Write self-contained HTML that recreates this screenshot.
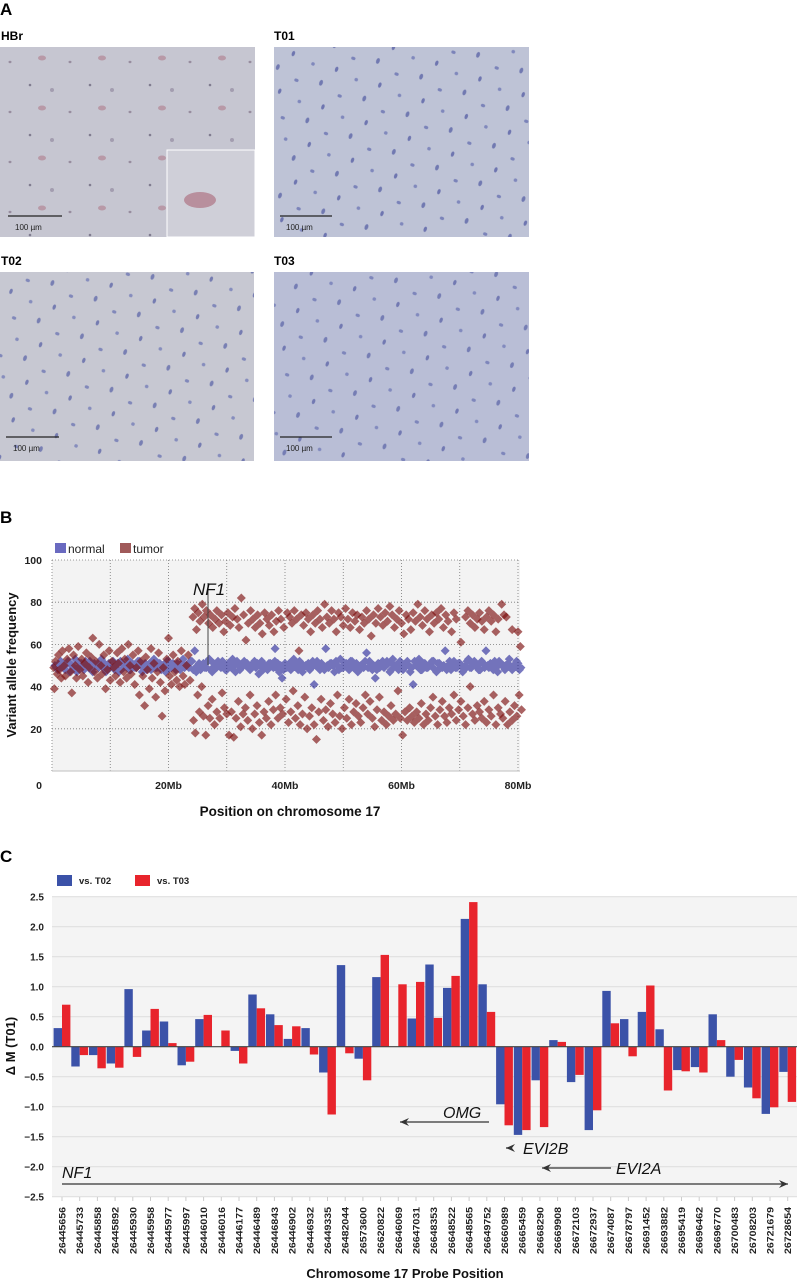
<!DOCTYPE html>
<html><head><meta charset="utf-8">
<style>
html,body{margin:0;padding:0;background:#fff;}
svg{display:block;font-family:"Liberation Sans",sans-serif;}
</style></head>
<body>
<svg id="fig" width="798" height="1280" viewBox="0 0 798 1280" xmlns="http://www.w3.org/2000/svg">
<defs>
<pattern id="cellsA" width="60" height="50" patternUnits="userSpaceOnUse">
<ellipse cx="10" cy="12" rx="1.5" ry="1.2" fill="#8c7f92"/><ellipse cx="42" cy="8" rx="4" ry="2.5" fill="#b48e9c"/><ellipse cx="30" cy="35" rx="1.3" ry="1.3" fill="#6e6a80"/><ellipse cx="52" cy="40" rx="2" ry="2" fill="#9a93a8"/>
</pattern>
<pattern id="cellsB" width="46" height="40" patternUnits="userSpaceOnUse" patternTransform="rotate(20)">
<ellipse cx="8" cy="8" rx="1.8" ry="3" fill="#5e67a8"/><ellipse cx="30" cy="14" rx="2.2" ry="1.6" fill="#6a73b2"/><ellipse cx="18" cy="30" rx="1.6" ry="2.8" fill="#5a62a6"/><ellipse cx="40" cy="33" rx="1.8" ry="1.8" fill="#7079b6"/>
</pattern>
</defs>

<!-- Panel A -->
<text x="0" y="15" font-size="17" font-weight="bold">A</text>
<g>
<text x="1" y="40" font-size="12" font-weight="bold">HBr</text>
<rect x="0" y="47" width="255" height="190" fill="#c6c6d1"/>
<rect x="0" y="47" width="255" height="190" fill="url(#cellsA)" opacity="0.8"/>
<rect x="167" y="150" width="88" height="87" fill="#cfcfd8" stroke="#fff" stroke-width="1"/>
<ellipse cx="200" cy="200" rx="16" ry="8" fill="#b88f9d"/>
<line x1="8" y1="216" x2="62" y2="216" stroke="#222" stroke-width="1.2"/>
<text x="15" y="230" font-size="8" fill="#222">100 µm</text>
</g>
<g>
<text x="274" y="40" font-size="12" font-weight="bold">T01</text>
<rect x="274" y="47" width="255" height="190" fill="#bec3d6"/>
<rect x="274" y="47" width="255" height="190" fill="url(#cellsB)" opacity="0.8"/>
<line x1="280" y1="216" x2="332" y2="216" stroke="#222" stroke-width="1.2"/>
<text x="286" y="230" font-size="8" fill="#222">100 µm</text>
</g>
<g>
<text x="1" y="265" font-size="12" font-weight="bold">T02</text>
<rect x="0" y="272" width="254" height="189" fill="#c7c8d2"/>
<rect x="0" y="272" width="254" height="189" fill="url(#cellsB)" opacity="0.75"/>
<line x1="6" y1="437" x2="59" y2="437" stroke="#222" stroke-width="1.2"/>
<text x="13" y="451" font-size="8" fill="#222">100 µm</text>
</g>
<g>
<text x="274" y="265" font-size="12" font-weight="bold">T03</text>
<rect x="274" y="272" width="255" height="189" fill="#b9bed6"/>
<rect x="274" y="272" width="255" height="189" fill="url(#cellsB)" opacity="0.75"/>
<line x1="280" y1="437" x2="332" y2="437" stroke="#222" stroke-width="1.2"/>
<text x="286" y="451" font-size="8" fill="#222">100 µm</text>
</g>

<!-- Panel B -->
<text x="0" y="523" font-size="17" font-weight="bold">B</text>
<g id="chartB"></g>

<!-- Panel C -->
<text x="0" y="862" font-size="17" font-weight="bold">C</text>
<g id="chartC"></g>
</svg>

<script>
// ---------- Panel B data ----------
const bTickVals = [0, 20, 40, 60, 80, 100];
const bXTickVals = [20, 40, 60, 80];
const bXTickLabels = ["20Mb", "40Mb", "60Mb", "80Mb"];
const tumorPos = [0.3,0.4,0.6,0.9,1.1,1.3,1.6,1.8,2.1,2.3,2.6,2.9,3.2,3.4,3.7,4,4.2,4.5,4.8,5.1,5.3,5.6,5.9,6.2,6.4,6.7,7,7.3,7.5,7.8,8.1,8.4,8.6,8.9,9.2,9.5,9.8,10,10.3,10.6,10.9,11.2,11.4,11.7,12,12.3,12.5,12.8,13.1,13.4,13.6,13.9,14.2,14.5,14.8,15,15.3,15.6,15.9,16.1,16.4,16.7,17,17.2,17.5,17.8,18.1,18.3,18.6,18.9,19.1,19.4,19.7,20,20.2,20.5,20.8,21.1,21.4,21.6,21.9,22.2,22.5,22.8,23.1,23.4,23.7,
24.2,24.5,24.8,25.1,25.4,25.8,26.1,26.5,26.9,27.2,27.6,28,28.3,28.7,29.1,29.5,29.8,30.2,30.6,31,31.4,31.8,32.1,32.5,32.9,33.3,33.7,34.1,34.5,34.9,35.3,35.7,36.1,36.5,36.9,37.3,37.7,38.1,38.5,38.9,39.3,39.8,40.4,40.8,41.2,41.6,42,42.4,42.8,43.2,43.6,44,44.4,44.8,45.2,45.6,46,46.4,46.8,47.2,47.6,48,48.4,48.8,49.2,49.6,50,50.4,50.8,51.2,51.6,52,52.4,52.8,53.2,53.6,54,54.4,54.8,55.2,55.6,56,56.4,56.8,57.2,57.6,58,58.4,58.8,59.2,59.6,60,60.4,60.8,61.2,61.6,62,62.4,62.8,63.2,63.6,64,64.4,64.8,65.2,65.6,66,66.4,66.8,67.2,67.6,68,68.6,69,69.4,70.2,71,71.4,71.8,72.2,72.6,73,73.4,73.8,74.2,74.6,75,75.4,75.8,76.2,76.6,77.2,77.6,78,79,80,80.4,
24.3,24.6,25,25.3,25.7,26,26.4,26.8,27.1,27.5,27.9,28.3,28.8,29.2,29.6,30,30.4,30.8,31.2,31.6,32,32.4,32.8,33.2,33.6,34,34.4,34.8,35.2,35.6,36,36.4,36.8,37.2,37.6,38,38.4,38.8,39.2,39.6,40.2,40.6,41,41.4,41.8,42.2,42.6,43,43.4,43.8,44.2,44.6,45,45.4,45.8,46.2,46.6,47,47.4,47.8,48.2,48.6,49,49.4,49.8,50.2,50.6,51,51.4,51.8,52.2,52.6,53,53.4,53.8,54.2,54.6,55,55.4,55.8,56.2,56.6,57,57.4,57.8,58.2,58.6,59,59.4,59.8,60.2,60.6,61,61.4,61.8,62.2,62.6,63,63.4,63.8,64.2,64.6,65,65.4,65.8,66.2,66.6,67,67.4,67.8,68.2,68.6,69,69.4,69.8,70.2,70.6,71,71.4,71.8,72.2,72.6,73,73.4,73.8,74.2,74.6,75,75.4,75.8,76.2,76.6,77,77.4,77.8,78.2,78.6,79,79.4,79.8,80.2,80.6];
const tumorVaf = [49,39,52,46,55,48,44,57,50,45,53,58,47,37,55,50,44,59,48,53,45,51,56,42,49,54,63,47,52,44,60,50,46,55,39,48,57,43,52,49,45,56,51,42,58,47,53,44,60,50,46,55,41,49,57,36,52,45,31,54,48,39,58,44,51,35,47,56,42,26,49,38,53,63,45,41,55,47,43,52,40,57,45,41,50,55,43,
73,77,67,75,71,79,73,76,70,74,68,72,76,70,74,66,71,75,69,73,77,72,68,82,74,62,70,76,72,68,74,70,65,75,72,69,74,66,71,76,72,68,75,73,70,76,72,57,74,69,75,72,66,74,70,76,72,68,79,73,70,76,72,66,75,73,69,77,72,68,75,71,74,67,73,70,76,72,64,74,70,77,73,69,75,71,78,74,68,72,76,70,65,74,72,67,75,71,79,73,69,76,72,66,74,70,75,72,77,68,74,71,66,75,72,61,73,76,70,74,68,72,75,71,67,73,76,71,74,66,72,79,74,73,67,66,59,
24,18,36,28,40,26,17,31,25,34,22,28,25,37,30,27,17,28,16,25,33,21,27,30,24,36,20,27,31,23,17,28,25,33,22,29,36,25,30,27,34,23,28,38,25,31,22,27,35,20,26,30,22,15,28,34,24,29,21,32,27,23,36,26,20,30,25,34,22,28,32,26,23,30,36,27,33,25,21,29,35,24,28,22,26,31,24,27,38,25,17,28,24,30,26,23,28,25,32,22,27,24,30,35,26,22,29,33,26,23,30,27,36,24,29,33,26,22,30,40,27,24,31,28,25,33,23,29,26,36,22,30,27,25,33,22,28,24,31,26,36,29];
const normalPos = [0.5,1,1.5,2,2.5,3,3.5,4,4.5,5,5.5,6,6.5,7,7.5,8,8.5,9,9.5,10,10.5,11,11.5,12,12.5,13,13.5,14,14.5,15,15.5,16,16.5,17,17.5,18,18.5,19,19.5,20,20.5,21,21.5,22,22.5,23,23.5,24,24.5,25,25.5,26,26.5,27,27.5,28,28.5,29,29.5,30,30.5,31,31.5,32,32.5,33,33.5,34,34.5,35,35.5,36,36.5,37,37.5,38,38.3,38.5,39,39.5,40,40.5,41,41.5,42,42.5,43,43.5,44,44.5,45,45.5,46,46.5,47,47.5,48,48.5,49,49.5,50,50.5,51,51.5,52,52.5,53,53.5,54,54.5,55,55.5,56,56.5,57,57.5,58,58.5,59,59.5,60,60.5,61,61.5,62,62.5,63,63.5,64,64.5,65,65.5,66,66.5,67,67.5,68,68.5,69,69.5,70,70.5,71,71.5,72,72.5,73,73.5,74,74.5,75,75.5,76,76.5,77,77.5,78,78.5,79,79.5,80,80.5];
const normalVaf = [50,48,52,49,51,47,50,53,49,51,48,50,52,47,50,49,53,51,48,50,52,49,47,51,50,53,48,50,49,52,47,51,50,48,53,49,51,50,47,52,49,50,51,48,53,50,49,52,57,50,48,51,49,53,47,50,52,49,51,48,50,53,47,50,49,52,51,48,50,49,46,52,50,48,51,49,58,50,47,44,51,50,48,53,49,52,47,50,51,49,41,52,48,50,58,49,51,47,50,53,49,51,48,52,50,47,50,49,56,52,48,44,51,50,49,52,47,53,50,48,51,49,52,47,41,50,53,48,51,49,50,52,47,51,49,57,50,48,52,49,51,47,50,53,49,52,50,48,51,57,49,50,52,47,51,50,49,53,48,50,51,49];
const normalVaf2 = [49,51,50,48,52,50,49,47,51,50,52,49,48,51,50,52,49,47,51,50,48,51,52,49,50,48,51,49,52,50,49,48,51,50,49,51,48,50,52,49,51,48,50,51,49,50,52,48,47,51,50,49,52,48,51,49,50,52,48,51,49,50,52,48,51,50,49,50,52,51,50,48,49,51,50,52,49,51,50,48,49,51,52,50,48,51,49,50,48,52,50,49,51,48,50,51,50,52,48,49,51,50,52,49,51,48,50,52,49,51,50,48,49,52,50,51,48,50,49,52,48,51,50,49,52,50,48,51,49,50,52,48,51,49,50,48,52,50,49,51,50,48,52,49,51,50,48,52,49,50,51,48,49,52,50,48,51,49,50,52,48];

// ---------- Panel C data ----------
const probes = ["26445656","26445733","26445858","26445892","26445930","26445958","26445977","26445997","26446010","26446016","26446177","26446489","26446843","26446902","26446932","26449335","26482044","26573600","26620822","26646069","26647031","26648353","26648522","26648565","26649752","26660989","26665459","26668290","26669908","26672103","26672937","26674087","26678797","26691452","26693882","26695419","26696462","26696770","26700483","26708203","26721679","26728654"];
const vsT02 = [0.31,-0.33,-0.14,-0.28,0.96,0.27,0.42,-0.31,0.46,0,-0.07,0.87,0.54,0.13,0.31,-0.43,1.36,-0.2,1.16,0,0.47,1.37,0.98,2.13,1.04,-0.96,-1.47,-0.56,0.11,-0.59,-1.39,0.93,0.46,0.58,0.29,-0.39,-0.34,0.54,-0.5,-0.68,-1.12,-0.42];
const vsT03 = [0.70,-0.14,-0.36,-0.35,-0.17,0.63,0.06,-0.25,0.53,0.27,-0.28,0.64,0.36,0.34,-0.13,-1.13,-0.11,-0.56,1.53,1.04,1.08,0.48,1.18,2.41,0.58,-1.31,-1.39,-1.34,0.08,-0.47,-1.06,0.39,-0.16,1.02,-0.73,-0.41,-0.43,0.11,-0.22,-0.86,-1.01,-0.92];
const cTickVals = [2.5,2.0,1.5,1.0,0.5,0.0,-0.5,-1.0,-1.5,-2.0,-2.5];
const cTickLabels = ["2.5","2.0","1.5","1.0","0.5","0.0","\u22120.5","\u22121.0","\u22121.5","\u22122.0","\u22122.5"];

const NS = "http://www.w3.org/2000/svg";
function mk(tag, attrs, parent) {
  const e = document.createElementNS(NS, tag);
  for (const k in attrs) e.setAttribute(k, attrs[k]);
  parent.appendChild(e);
  return e;
}

// ---------- Draw Panel B ----------
(function(){
  const g = document.getElementById('chartB');
  const L = 52, R = 520, T = 560, B = 771;
  const xs = v => L + v * (518 - 52) / 80;
  const ys = v => B - v * (B - T) / 100;
  mk('rect', {x:L, y:T, width:R-L, height:B-T, fill:'#f3f3f3'}, g);
  for (let m = 10; m <= 80; m += 10) {
    const ln = mk('line', {x1:xs(m), x2:xs(m), y1:T, y2:B, stroke:'#777', 'stroke-width':0.8, 'stroke-dasharray':'1,2'}, g);
    
    
  }
  mk('line', {x1:L, x2:L, y1:T, y2:B, stroke:'#777', 'stroke-width':0.8, 'stroke-dasharray':'1,2'}, g);
  bTickVals.forEach(v => {
    if (v > 0) {
      const ln = mk('line', {x1:L, x2:R, y1:ys(v), y2:ys(v), stroke:'#777', 'stroke-width':0.8, 'stroke-dasharray':'1,2'}, g);
      
      
    }
    const t = mk('text', {x:42, y: v === 0 ? 789 : ys(v)+4, 'font-size':10.5, 'font-weight':'bold', 'text-anchor':'end', fill:'#222'}, g);
    t.textContent = v;
    
    
  });
  mk('line', {x1:L, x2:R, y1:B, y2:B, stroke:'#ccc', 'stroke-width':1.2}, g);
  bXTickVals.forEach((v, i) => {
    const t = mk('text', {x:xs(v), y:789, 'font-size':10.5, 'font-weight':'bold', 'text-anchor':'middle', fill:'#222'}, g);
    t.textContent = bXTickLabels[i];
    
    
  });
  const d = 4.5;
  function diamond(x, y) {
    return `M${x},${y-d}L${x+d},${y}L${x},${y+d}L${x-d},${y}Z`;
  }
  let pth = '';
  normalPos.forEach((p, i) => { pth += diamond(xs(p), ys(normalVaf[i])); });
  normalPos.forEach((p, i) => { pth += diamond(xs(p) + 1.5, ys(normalVaf2[i])); });
  const np = mk('path', {d:pth, fill:'rgba(30,30,150,0.6)'}, g);
  
  
  tumorPos.forEach((p, i) => {
    const e = mk('path', {d:diamond(xs(p), ys(tumorVaf[i])), fill:'rgba(125,15,15,0.65)'}, g);
    
    
  });
  // NF1 marker
  mk('line', {x1:208, x2:208, y1:583, y2:665, stroke:'#444', 'stroke-width':1}, g);
  const nf = mk('text', {x:193, y:595, 'font-size':17, 'font-style':'italic', fill:'#111'}, g);
  nf.textContent = 'NF1';
  
  
  // legend
  mk('rect', {x:55, y:543, width:11, height:10, fill:'#6a6ac0'}, g);
  const l1 = mk('text', {x:68, y:553, 'font-size':12, fill:'#222'}, g);
  l1.textContent = 'normal';
  
  
  mk('rect', {x:120, y:543, width:11, height:10, fill:'#a05a5a'}, g);
  const l2 = mk('text', {x:133, y:553, 'font-size':12, fill:'#222'}, g);
  l2.textContent = 'tumor';
  
  
  const yt = mk('text', {x:0, y:0, 'font-size':13, 'font-weight':'bold', 'text-anchor':'middle', fill:'#111', transform:'translate(16,665) rotate(-90)'}, g);
  yt.textContent = 'Variant allele frequency';
  
  
  const xt = mk('text', {x:290, y:816, 'font-size':13.5, 'font-weight':'bold', 'text-anchor':'middle', fill:'#111'}, g);
  xt.textContent = 'Position on chromosome 17';
  
  
})();

// ---------- Draw Panel C ----------
(function(){
  const g = document.getElementById('chartC');
  const L = 52, R = 797, T = 896.7, B = 1196.7;
  const ys = v => 1046.7 - v * 60;
  const xc = i => 62 + i * 17.7;
  mk('rect', {x:L, y:T, width:R-L, height:B-T, fill:'#f4f4f4'}, g);
  cTickVals.forEach((v, i) => {
    const ln = mk('line', {x1:L, x2:R, y1:ys(v), y2:ys(v), stroke:'#e0e0e0', 'stroke-width':1.2}, g);
    
    
    const t = mk('text', {x:44, y:ys(v)+4, 'font-size':10, 'font-weight':'bold', 'text-anchor':'end', fill:'#222'}, g);
    t.textContent = cTickLabels[i];
    
    
  });
  const bw = 8.4;
  probes.forEach((p, i) => {
    const v1 = vsT02[i], v2 = vsT03[i];
    const b1 = mk('rect', {x:xc(i)-bw, y:Math.min(ys(v1), ys(0)), width:bw, height:Math.abs(ys(v1)-ys(0)), fill:'#3b52a8'}, g);
    
    
    const b2 = mk('rect', {x:xc(i), y:Math.min(ys(v2), ys(0)), width:bw, height:Math.abs(ys(v2)-ys(0)), fill:'#e8242c'}, g);
    
    
    mk('line', {x1:xc(i), x2:xc(i), y1:1197, y2:1201, stroke:'#ccc', 'stroke-width':1}, g);
    const t = mk('text', {x:0, y:0, 'font-size':9.5, 'font-weight':'bold', 'text-anchor':'end', fill:'#222', textLength:47, lengthAdjust:'spacingAndGlyphs', transform:`translate(${xc(i)+3.5},1207) rotate(-90)`}, g);
    t.textContent = p;
    
    
  });
  mk('line', {x1:L, x2:R, y1:ys(0), y2:ys(0), stroke:'#444', 'stroke-width':1.2}, g);
  function arrow(x1, x2, y, name) {
    const a = mk('g', {}, g);
    
    
    mk('line', {x1:x1, x2:x2, y1:y, y2:y, stroke:'#333', 'stroke-width':1.3}, a);
    const dir = x2 > x1 ? -1 : 1;
    mk('path', {d:`M${x2},${y}L${x2+dir*9},${y-4}L${x2+dir*6},${y}L${x2+dir*9},${y+4}Z`, fill:'#333'}, a);
  }
  arrow(489, 400, 1122, 'omg-arrow');
  arrow(512, 506, 1148, 'evi2b-arrow');
  arrow(611, 542, 1168, 'evi2a-arrow');
  arrow(62, 788, 1184, 'nf1-arrow');
  const labs = [['OMG',443,1118],['EVI2B',523,1154],['EVI2A',616,1174],['NF1',62,1178]];
  labs.forEach(l => {
    const t = mk('text', {x:l[1], y:l[2], 'font-size':16, 'font-style':'italic', fill:'#111'}, g);
    t.textContent = l[0];
    
    
  });
  mk('rect', {x:57, y:875, width:15, height:11, fill:'#3b52a8'}, g);
  const l1 = mk('text', {x:79, y:884, 'font-size':9.5, 'font-weight':'bold', fill:'#222'}, g);
  l1.textContent = 'vs. T02';
  
  
  mk('rect', {x:135, y:875, width:15, height:11, fill:'#e8242c'}, g);
  const l2 = mk('text', {x:157, y:884, 'font-size':9.5, 'font-weight':'bold', fill:'#222'}, g);
  l2.textContent = 'vs. T03';
  
  
  const yt = mk('text', {x:0, y:0, 'font-size':13, 'font-weight':'bold', 'text-anchor':'middle', fill:'#111', transform:'translate(15,1046) rotate(-90)'}, g);
  yt.textContent = '\u0394 M (T01)';
  
  
  const xt = mk('text', {x:405, y:1278, 'font-size':13, 'font-weight':'bold', 'text-anchor':'middle', fill:'#111'}, g);
  xt.textContent = 'Chromosome 17 Probe Position';
  
  
})();
</script>
</body></html>
